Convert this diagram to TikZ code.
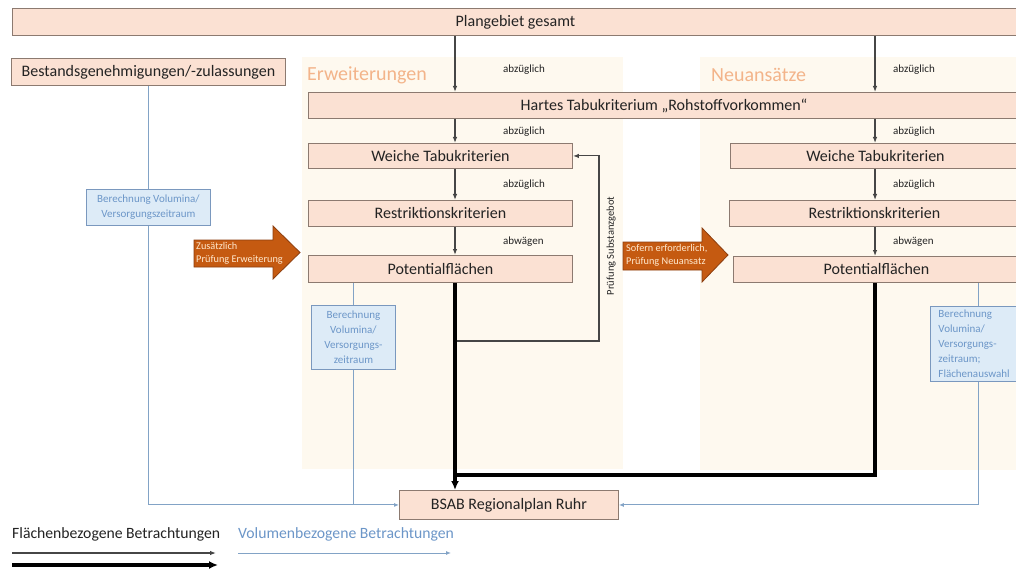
\documentclass[tikz,border=0pt]{standalone}
\usepackage{fontspec}
\setmainfont{Carlito}
\usetikzlibrary{arrows.meta}
\definecolor{boxfill}{RGB}{251,225,211}
\definecolor{boxdraw}{RGB}{140,122,112}
\definecolor{panelbg}{RGB}{254,249,239}
\definecolor{titlecol}{RGB}{243,180,138}
\definecolor{orfill}{RGB}{197,90,17}
\definecolor{ordraw}{RGB}{140,62,15}
\definecolor{ortext}{RGB}{255,232,205}
\definecolor{bfill}{RGB}{221,235,247}
\definecolor{bdraw}{RGB}{122,152,190}
\definecolor{btext}{RGB}{108,150,200}
\definecolor{bline}{RGB}{130,163,198}
\definecolor{txt}{RGB}{35,35,35}
\definecolor{darkline}{RGB}{70,70,70}
\tikzset{
  box/.style={draw=boxdraw, fill=boxfill, line width=0.9pt, text=txt,
    font=\fontsize{16}{18}\selectfont, inner sep=0pt, anchor=north west},
  bbox/.style={draw=bdraw, fill=bfill, line width=0.9pt, text=btext,
    font=\fontsize{11}{15}\selectfont, inner sep=0pt, anchor=north west, align=center},
  small/.style={font=\fontsize{11}{12}\selectfont, text=txt, anchor=west, inner sep=0pt},
  darr/.style={draw=darkline, line width=1.1pt, -{Latex[length=6pt,width=4.5pt]}},
  thickarr/.style={draw=black, line width=3.2pt, -{Latex[length=9pt,width=8pt]}},
  thickline/.style={draw=black, line width=3.2pt},
  bluel/.style={draw=bline, line width=1pt},
  bluearr/.style={draw=bline, line width=1pt, -{Latex[length=5pt,width=4pt]}},
  blockarr/.style={fill=orfill, draw=ordraw, line width=0.8pt},
  ortxt/.style={text=ortext, font=\fontsize{10.3}{13}\selectfont, align=left, anchor=west, inner sep=0pt},
  paneltitle/.style={text=titlecol, font=\fontsize{20}{22}\selectfont, anchor=west, inner sep=0pt}
}
\begin{document}
\begin{tikzpicture}[x=1pt,y=-1pt]
\useasboundingbox (0,0) rectangle (1016,577);
\clip (0,0) rectangle (1016,577);
\fill[white] (0,0) rectangle (1016,577);
% panels
\fill[panelbg] (302,57) rectangle (623,469);
\fill[panelbg] (700,57) rectangle (1030,470);
\node[paneltitle] (tErw) at (307,75) {Erweiterungen};
\node[paneltitle] (tNeu) at (711,75) {Neuansätze};
% boxes
\node[box, minimum width=1006pt, minimum height=27pt] (plan) at (12,8) {Plangebiet gesamt};
\node[box, minimum width=274pt, minimum height=27pt] (bestand) at (11,58) {Bestandsgenehmigungen/-zulassungen};
\node[box, minimum width=711pt, minimum height=26pt] (hart) at (308,92) {Hartes Tabukriterium „Rohstoffvorkommen“};
\node[box, minimum width=264pt, minimum height=25pt] (weichL) at (308,143) {Weiche Tabukriterien};
\node[box, minimum width=264pt, minimum height=26pt] (restrL) at (308,200) {Restriktionskriterien};
\node[box, minimum width=264pt, minimum height=27pt] (potL) at (308,255) {Potentialflächen};
\node[box, minimum width=290pt, minimum height=25pt] (weichR) at (730,143) {Weiche Tabukriterien};
\node[box, minimum width=290pt, minimum height=26pt] (restrR) at (729,200) {Restriktionskriterien};
\node[box, minimum width=286pt, minimum height=26pt] (potR) at (733,256) {Potentialflächen};
\node[box, minimum width=219pt, minimum height=29pt] (bsab) at (399,490) {BSAB Regionalplan Ruhr};
% blue boxes
\node[bbox, minimum width=124pt, minimum height=36pt] (berA) at (86,189) {Berechnung Volumina/\\Versorgungszeitraum};
\node[bbox, minimum width=84pt, minimum height=64pt] (berB) at (311,305) {Berechnung\\Volumina/\\Versorgungs-\\zeitraum};
\node[bbox, minimum width=95pt, minimum height=75pt, align=left, text width=80pt, inner xsep=8pt] (berC) at (930,306) {Berechnung\\Volumina/\\Versorgungs-\\zeitraum;\\Flächenauswahl};
% column coordinates
\coordinate (colL) at (455,0);
\coordinate (colR) at (875,0);
\coordinate (colC) at (978,0);
\coordinate (fbx) at (599,0);
\coordinate (fb1) at (455,341);
\coordinate (jn) at (455,475);
% thin arrows left column
\draw[darr] (plan.south -| colL) -- (hart.north -| colL);
\draw[darr] (hart.south -| colL) -- (weichL.north -| colL);
\draw[darr] (weichL.south -| colL) -- (restrL.north -| colL);
\draw[darr] (restrL.south -| colL) -- (potL.north -| colL);
% thin arrows right column
\draw[darr] (plan.south -| colR) -- (hart.north -| colR);
\draw[darr] (hart.south -| colR) -- (weichR.north -| colR);
\draw[darr] (weichR.south -| colR) -- (restrR.north -| colR);
\draw[darr] (restrR.south -| colR) -- (potR.north -| colR);
% labels
\node[small] (l1) at (503,70) {abzüglich};
\node[small] (l2) at (503,132) {abzüglich};
\node[small] (l3) at (503,185) {abzüglich};
\node[small] (l4) at (503,242) {abwägen};
\node[small] (r1) at (893,70) {abzüglich};
\node[small] (r2) at (893,132) {abzüglich};
\node[small] (r3) at (893,185) {abzüglich};
\node[small] (r4) at (893,242) {abwägen};
% feedback
\draw[darr] (fb1) -| (fbx |- weichL.east) -- (weichL.east);
\node[font=\fontsize{10.5}{12}\selectfont, text=txt, rotate=90, inner sep=0pt] (pruef) at (611,246) {Prüfung Substanzgebot};
% thick lines
\draw[thickarr] (potL.south -| colL) -- (bsab.north -| colL);
\draw[thickline] (potR.south -| colR) |- (jn);
% blue lines
\draw[bluel] (bestand.south -| berA.north) -- (berA.north);
\draw[bluearr] (berA.south) |- (bsab.west);
\draw[bluel] (potL.south -| berB.north) -- (berB.north);
\draw[bluel] (berB.south) -- (berB.south |- bsab.west);
\draw[bluel] (potR.south -| colC) -- (berC.north -| colC);
\draw[bluearr] (berC.south -| colC) |- (bsab.east);
% orange block arrows
\draw[blockarr] (194,240) -- (273,240) -- (273,226) -- (300,252.5) -- (273,279) -- (273,267) -- (194,267) -- cycle;
\node[ortxt] (oA) at (196,253.5) {Zusätzlich\\Prüfung Erweiterung};
\draw[blockarr] (623,242) -- (702,242) -- (702,228) -- (728,255) -- (702,282) -- (702,270) -- (623,270) -- cycle;
\node[ortxt] (oB) at (626,255) {Sofern erforderlich,\\Prüfung Neuansatz};
% legend
\node[font=\fontsize{15.7}{17}\selectfont, text=txt, anchor=west, inner sep=0pt] (legF) at (12,534) {Flächenbezogene Betrachtungen};
\node[font=\fontsize{15.7}{17}\selectfont, text=btext, anchor=west, inner sep=0pt] (legV) at (238,534) {Volumenbezogene Betrachtungen};
\coordinate (lg1a) at (12,553);
\coordinate (lg1b) at (216,553);
\coordinate (lg2a) at (12,565);
\coordinate (lg2b) at (218,565);
\coordinate (lg3a) at (238,553);
\coordinate (lg3b) at (451,553);
\draw[darr] (lg1a) -- (lg1b);
\draw[thickarr] (lg2a) -- (lg2b);
\draw[bluearr] (lg3a) -- (lg3b);
\end{tikzpicture}
\end{document}
